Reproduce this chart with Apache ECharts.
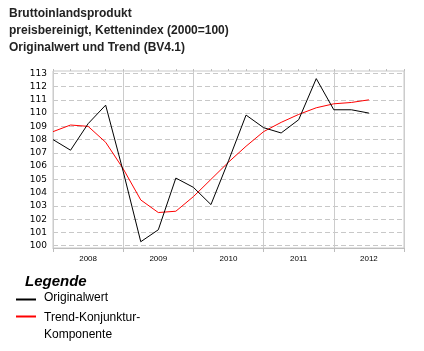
<!DOCTYPE html>
<html>
<head>
<meta charset="utf-8">
<script src="https://cdn.jsdelivr.net/npm/echarts@6/dist/echarts.min.js"></script>
<style>
  html, body { margin: 0; padding: 0; background: #fff; }
  #chart { width: 424px; height: 351px; }
</style>
</head>
<body>
<div id="chart"></div>
<script>
'use strict';
// Jahre (Achsenbeschriftung) und Quartalswerte 2008 Q1 - 2012 Q3
var years = ['2008', '2009', '2010', '2011', '2012'];
var original = [108.0, 107.2, 109.2, 110.6, 105.6, 100.3, 101.2, 105.1, 104.4, 103.1,
                106.4, 109.85, 108.9, 108.5, 109.5, 112.6, 110.25, 110.25, 110.0];
var trend = [108.6, 109.1, 109.0, 107.8, 105.8, 103.45, 102.5, 102.6, 103.7, 105.0,
             106.3, 107.5, 108.6, 109.3, 109.9, 110.4, 110.7, 110.8, 111.0];
var yTicks = [100, 113];

function toPairs(arr) {
    var out = [];
    for (var i = 0; i < arr.length; i++) {
        out.push([i, arr[i]]);
    }
    return out;
}

var myChart = echarts.init(document.getElementById('chart'));
var font = 'Liberation Sans, Arial, sans-serif';
var option = {
    animation: false,
    title: {
        text: 'Bruttoinlandsprodukt\npreisbereinigt, Kettenindex (2000=100)\nOriginalwert und Trend (BV4.1)',
        left: 9,
        top: 5,
        padding: 0,
        textStyle: {
            fontFamily: font,
            fontSize: 12,
            fontWeight: 'bold',
            color: '#222',
            lineHeight: 17
        }
    },
    grid: [
        // Rahmen mit Jahresachse
        { left: 53, top: 71, width: 351, height: 177, show: true, borderColor: '#c8c8c8', borderWidth: 1 },
        // Datenbereich
        { left: 53, top: 73.3, width: 351, height: 172.4 }
    ],
    xAxis: [
        {
            gridIndex: 0,
            type: 'category',
            data: years,
            boundaryGap: true,
            axisLine: { show: true, lineStyle: { color: '#bdbdbd' } },
            axisTick: { show: true, length: 4, lineStyle: { color: '#bdbdbd' } },
            axisLabel: { margin: 7, fontFamily: font, fontSize: 8, color: '#000' },
            splitLine: { show: true, lineStyle: { color: '#cccccc', width: 1 } }
        },
        {
            gridIndex: 0,
            type: 'value',
            min: 0,
            max: 20,
            interval: 1,
            axisLine: { show: false },
            axisTick: { show: true, length: 2, lineStyle: { color: '#bdbdbd' } },
            axisLabel: { show: false },
            splitLine: { show: false }
        },
        {
            gridIndex: 1,
            type: 'value',
            min: 0,
            max: 20,
            show: false
        }
    ],
    yAxis: [
        {
            gridIndex: 0,
            type: 'value',
            min: 0,
            max: 1,
            axisLine: { show: false },
            axisTick: { show: false },
            axisLabel: { show: false },
            splitLine: { show: false }
        },
        {
            gridIndex: 1,
            type: 'value',
            min: yTicks[0],
            max: yTicks[1],
            interval: 1,
            axisLine: { show: false },
            axisTick: { show: false },
            axisLabel: { margin: 6, fontFamily: 'DejaVu Sans', fontSize: 9, color: '#000' },
            splitLine: { show: true, lineStyle: { color: '#c8c8c8', type: [5, 3], width: 1 } }
        }
    ],
    series: [
        {
            name: 'Originalwert',
            type: 'line',
            xAxisIndex: 2,
            yAxisIndex: 1,
            data: toPairs(original),
            showSymbol: false,
            lineStyle: { color: '#000', width: 1 },
            itemStyle: { color: '#000' },
            z: 3
        },
        {
            name: 'Trend-Konjunktur-Komponente',
            type: 'line',
            xAxisIndex: 2,
            yAxisIndex: 1,
            data: toPairs(trend),
            showSymbol: false,
            lineStyle: { color: '#ff0000', width: 1 },
            itemStyle: { color: '#ff0000' },
            z: 2
        }
    ],
    graphic: [
        { type: 'text', left: 25, top: 274, style: { text: 'Legende', font: 'italic bold 15px ' + font, fill: '#000' } },
        { type: 'line', shape: { x1: 16, y1: 299.5, x2: 36, y2: 299.5 }, style: { stroke: '#000', lineWidth: 2 } },
        { type: 'text', left: 44, top: 292, style: { text: 'Originalwert', font: '12px ' + font, fill: '#000' } },
        { type: 'line', shape: { x1: 16, y1: 316.5, x2: 36, y2: 316.5 }, style: { stroke: '#ff0000', lineWidth: 2 } },
        { type: 'text', left: 44, top: 309, style: { text: 'Trend-Konjunktur-\nKomponente', font: '12px ' + font, fill: '#000', lineHeight: 17 } }
    ]
};
myChart.setOption(option);
</script>
</body>
</html>
